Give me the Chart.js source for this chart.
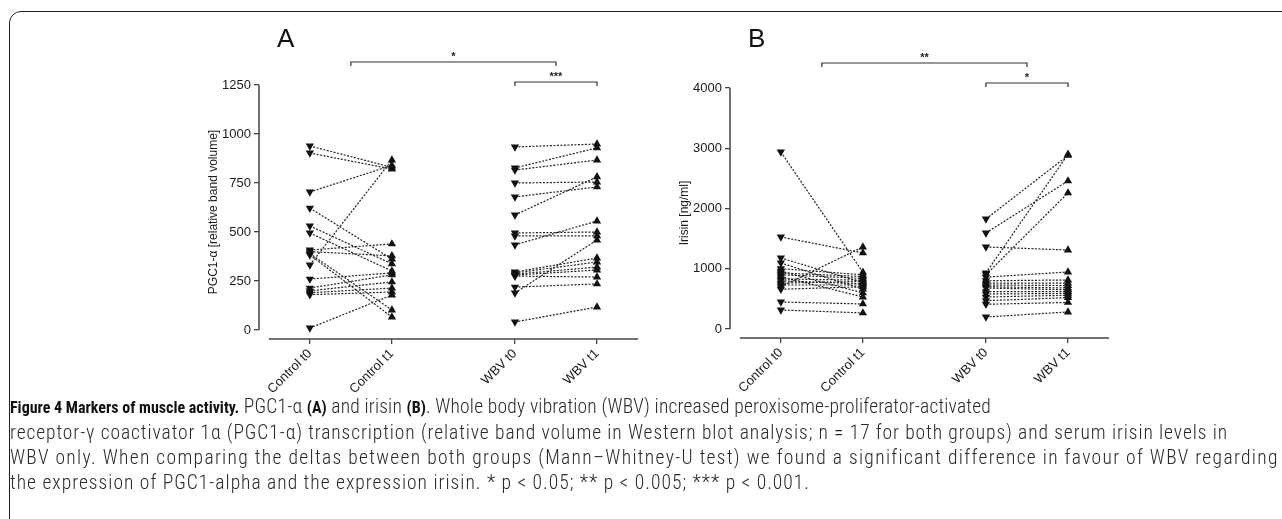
<!DOCTYPE html>
<html>
<head>
<meta charset="utf-8">
<script src="https://cdn.jsdelivr.net/npm/chart.js@4.4.1/dist/chart.umd.min.js"></script>
<style>
  body { margin: 0; background: #fff; width: 1282px; height: 519px; overflow: hidden; position: relative; }
  .frame { position: absolute; left: 9px; top: 11px; width: 1300px; height: 540px; border: 1.5px solid #222; border-radius: 12px; }
  canvas { position: absolute; top: 0; }
  #chart-a { left: 190px; }
  #chart-b { left: 661px; }
  .caption { position: absolute; left: 10px; top: 394px; font-family: "Roboto Condensed", "Open Sans", sans-serif; font-weight: 300;
             font-size: 19.5px; line-height: 25px; color: #2a2a2a; white-space: nowrap; }
  .caption .line { display: block; width: max-content; }
  .caption b { color: #111; font-weight: 700; font-size: 16px; letter-spacing: 0; }
</style>
</head>
<body>
<div class="frame"></div>
<canvas id="chart-a" width="490" height="400" style="width:490px;height:400px"></canvas>
<canvas id="chart-b" width="490" height="400" style="width:490px;height:400px"></canvas>
<div class="caption">
<span class="line" data-end="991"><b>Figure 4 Markers of muscle activity.</b> PGC1-α <b>(A)</b> and irisin <b>(B)</b>. Whole body vibration (WBV) increased peroxisome-proliferator-activated</span>
<span class="line" data-end="1228">receptor-γ coactivator 1α (PGC1-α) transcription (relative band volume in Western blot analysis; n = 17 for both groups) and serum irisin levels in</span>
<span class="line" data-end="1278">WBV only. When comparing the deltas between both groups (Mann–Whitney-U test) we found a significant difference in favour of WBV regarding</span>
<span class="line" data-end="810">the expression of PGC1-alpha and the expression irisin. * p &lt; 0.05; ** p &lt; 0.005; *** p &lt; 0.001.</span>
</div>
<script>
// groups on the x axis, with a gap between control and WBV
const categories = ['Control t0', 'Control t1', 'WBV t0', 'WBV t1'];
const catPos = [0, 1, 2.5, 3.5];

// PGC1-alpha, paired per subject
const pgcControlT0 = [939, 903, 704, 332, 622, 531, 495, 408, 400, 390, 383, 260, 214, 200, 190, 180, 10];
const pgcControlT1 = [830, 821, 840, 867, 362, 337, 301, 439, 378, 102, 66, 291, 281, 245, 214, 194, 178];
const pgcWbvT0 = [934, 827, 816, 750, 679, 587, 495, 480, 434, 296, 291, 285, 280, 275, 219, 189, 41];
const pgcWbvT1 = [949, 929, 867, 755, 730, 781, 500, 480, 556, 367, 347, 321, 306, 270, 235, 459, 117];

// irisin, paired per subject
const irisinControlT0 = [2938, 1527, 1179, 1096, 1000, 960, 930, 900, 870, 830, 800, 760, 730, 700, 660, 448, 315];
const irisinControlT1 = [940, 1262, 770, 660, 900, 598, 870, 840, 531, 810, 750, 790, 730, 1361, 700, 415, 266];
const irisinWbvT0 = [1826, 1594, 1361, 930, 900, 860, 800, 760, 730, 700, 680, 620, 580, 530, 470, 410, 199];
const irisinWbvT1 = [2880, 2457, 1311, 2900, 2258, 946, 813, 760, 720, 680, 650, 620, 590, 560, 520, 440, 282];

const pgcTicks = [0, 250, 500, 750, 1000, 1250];
const irisinTicks = [0, 1000, 2000, 3000, 4000];

const FONT = '"Liberation Sans", Arial, sans-serif';

function pairDatasets(t0, t1, x0, x1) {
    return t0.map((v, i) => ({
        data: [{ x: x0, y: v }, { x: x1, y: t1[i] }],
        showLine: true,
        borderColor: '#222',
        borderWidth: 1.2,
        borderDash: [2, 1.5],
        pointStyle: 'triangle',
        rotation: ctx => ctx.dataIndex === 0 ? 180 : 0,
        pointRadius: 4.8,
        pointBackgroundColor: '#111',
        pointBorderColor: '#111',
        pointBorderWidth: 0
    }));
}

// axis lines, brackets with stars and the panel letter
const extrasPlugin = {
    id: 'extras',
    afterDraw(chart, args, opts) {
        const c = chart.ctx, x = chart.scales.x, y = chart.scales.y, area = chart.chartArea;
        c.save();
        c.strokeStyle = '#444';
        c.lineWidth = 1.5;
        // y axis line from first to last tick
        c.beginPath();
        c.moveTo(area.left, y.getPixelForValue(opts.yTicks[0]));
        c.lineTo(area.left, y.getPixelForValue(opts.yTicks[opts.yTicks.length - 1]));
        c.stroke();
        // x axis line
        c.beginPath();
        c.moveTo(x.getPixelForValue(-0.5), area.bottom);
        c.lineTo(x.getPixelForValue(4.0), area.bottom);
        c.stroke();

        c.lineWidth = 1.2;
        c.strokeStyle = '#333';
        c.fillStyle = '#222';
        c.textAlign = 'center';
        opts.brackets.forEach(b => {
            const x1 = x.getPixelForValue(b.from), x2 = x.getPixelForValue(b.to);
            const yy = area.top - b.up;
            c.beginPath();
            c.moveTo(x1, yy + 4);
            c.lineTo(x1, yy);
            c.lineTo(x2, yy);
            c.lineTo(x2, yy + 4);
            c.stroke();
            c.font = 'bold 11px ' + FONT;
            c.fillText(b.text, (x1 + x2) / 2, yy - 2);
        });

        c.textAlign = 'left';
        c.font = '26px ' + FONT;
        c.fillStyle = '#111';
        c.fillText(opts.letter, area.left + 18, 47);
        c.restore();
    }
};

function makeChart(id, datasets, yTicks, yMin, yTitle, padTop, padRight, xHeight, letter, brackets) {
    return new Chart(document.getElementById(id), {
        type: 'scatter',
        data: { datasets },
        plugins: [extrasPlugin],
        options: {
            responsive: false,
            animation: false,
            layout: { padding: { top: padTop, right: padRight, left: 12, bottom: 0 } },
            plugins: {
                legend: { display: false },
                tooltip: { enabled: false },
                extras: { yTicks, letter, brackets }
            },
            scales: {
                x: {
                    type: 'linear',
                    min: -0.62,
                    max: 4.0,
                    border: { display: false },
                    grid: { drawOnChartArea: false, tickLength: 5, color: '#444', lineWidth: 1.3 },
                    afterBuildTicks: s => { s.ticks = catPos.map(v => ({ value: v })); },
                    afterFit: s => { s.height = xHeight; },
                    ticks: {
                        minRotation: 45,
                        maxRotation: 45,
                        autoSkip: false,
                        padding: 2,
                        color: '#1a1a1a',
                        font: { family: FONT, size: 13 },
                        callback: (v, i) => categories[i]
                    }
                },
                y: {
                    min: yMin,
                    max: yTicks[yTicks.length - 1],
                    border: { display: false },
                    grid: { drawOnChartArea: false, tickLength: 5, color: '#444', lineWidth: 1.3 },
                    afterBuildTicks: s => { s.ticks = yTicks.map(v => ({ value: v })); },
                    afterFit: s => { s.width = 57; },
                    ticks: {
                        padding: 3,
                        color: '#1a1a1a',
                        font: { family: FONT, size: 13 },
                        callback: v => String(v)
                    },
                    title: {
                        display: true,
                        text: yTitle,
                        color: '#1a1a1a',
                        padding: { top: 4, bottom: 4 },
                        font: { family: FONT, size: 12 }
                    }
                }
            }
        }
    });
}

makeChart('chart-a',
    pairDatasets(pgcControlT0, pgcControlT1, catPos[0], catPos[1])
        .concat(pairDatasets(pgcWbvT0, pgcWbvT1, catPos[2], catPos[3])),
    pgcTicks, -46, 'PGC1-α [relative band volume]', 85, 490 - 448, 61, 'A',
    [{ from: 0.5, to: 3, up: 23, text: '*' }, { from: 2.5, to: 3.5, up: 3, text: '***' }]);

makeChart('chart-b',
    pairDatasets(irisinControlT0, irisinControlT1, catPos[0], catPos[1])
        .concat(pairDatasets(irisinWbvT0, irisinWbvT1, catPos[2], catPos[3])),
    irisinTicks, -150, 'Irisin [ng/ml]', 88, 490 - 448, 62, 'B',
    [{ from: 0.5, to: 3, up: 25, text: '**' }, { from: 2.5, to: 3.5, up: 5, text: '*' }]);

// nudge each caption line so it ends where the printed line ends
document.querySelectorAll('.caption .line').forEach(el => {
    const target = Number(el.dataset.end) - 10;
    const w = el.getBoundingClientRect().width;
    let n = el.textContent.length;
    el.querySelectorAll('b').forEach(b => { n -= b.textContent.length; });
    el.style.letterSpacing = ((target - w) / n).toFixed(3) + 'px';
});
</script>
</body>
</html>
